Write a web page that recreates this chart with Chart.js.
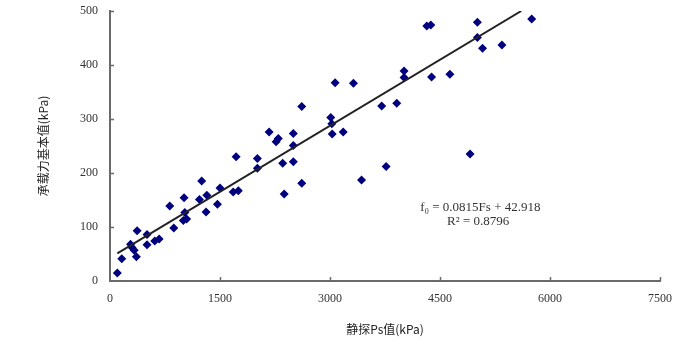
<!DOCTYPE html>
<html>
<head>
    <meta charset="UTF-8">
    <title>静探Ps值与承载力基本值</title>
    <script src="https://cdn.jsdelivr.net/npm/chart.js"></script>
    <style>
        html, body { margin: 0; padding: 0; background: #fff; }
        #wrap { width: 673px; height: 345px; }
    </style>
</head>
<body>
    <div id="wrap"><canvas id="myChart" width="673" height="345"></canvas></div>

    <script>
        // 静探Ps值 (kPa)
        var psValues = [100, 160, 280, 300, 330, 360, 370, 505, 505, 610, 670, 815, 870, 1010, 1020, 1000, 1045,
            1220, 1250, 1310, 1320, 1465, 1500, 1680, 1750, 1720, 2010, 2010, 2170, 2265, 2295, 2355, 2375,
            2500, 2500, 2500, 2615, 2615, 3010, 3025, 3030, 3070, 3180, 3320, 3430, 3705, 3765, 3910, 4010,
            4010, 4320, 4375, 4385, 4635, 4910, 5010, 5010, 5080, 5345, 5750];
        // 承载力基本值 (kPa)
        var f0Values = [15, 41, 68, 62, 57, 45, 93, 86, 67, 74, 78, 139, 98, 154, 127, 112, 115,
            151, 185, 128, 159, 142, 172, 165, 167, 230, 227, 209, 276, 258, 264, 218, 161,
            273, 221, 251, 323, 181, 303, 291, 272, 367, 276, 366, 187, 324, 212, 329, 389,
            377, 472, 474, 378, 383, 235, 479, 451, 431, 437, 485];

        var xTicks = [0, 1500, 3000, 4500, 6000, 7500];
        var yTicks = [0, 100, 200, 300, 400, 500];

        // 趋势线 fo = 0.0815Fs + 42.918
        var trendSlope = 0.0815;
        var trendIntercept = 42.918;
        var equationText = ['f\u2080 = 0.0815Fs + 42.918', 'R\u00B2 = 0.8796'];

        var points = [];
        for (var i = 0; i < psValues.length; i++) {
            points.push({ x: psValues[i], y: f0Values[i] });
        }

        // 趋势线从最小Ps到 y 轴上限
        var xStart = Math.min.apply(null, psValues);
        var xEnd = Math.min(Math.max.apply(null, psValues), (yTicks[yTicks.length - 1] - trendIntercept) / trendSlope);
        var trendPoints = [
            { x: xStart, y: trendSlope * xStart + trendIntercept },
            { x: xEnd, y: trendSlope * xEnd + trendIntercept }
        ];

        // 向内的刻度线 + 公式文字
        var extras = {
            id: 'extras',
            afterDatasetsDraw: function (chart) {
                var ctx = chart.ctx;
                var xs = chart.scales.x, ys = chart.scales.y;
                var area = chart.chartArea;
                ctx.save();
                ctx.strokeStyle = '#6a6a6a';
                ctx.lineWidth = 1.5;
                ctx.beginPath();
                xTicks.forEach(function (v) {
                    if (v === 0) return;
                    var px = Math.round(xs.getPixelForValue(v)) + 0.5;
                    ctx.moveTo(px, area.bottom);
                    ctx.lineTo(px, area.bottom - 4);
                });
                yTicks.forEach(function (v) {
                    if (v === 0) return;
                    var py = Math.round(ys.getPixelForValue(v)) + 0.5;
                    ctx.moveTo(area.left, py);
                    ctx.lineTo(area.left + 4, py);
                });
                ctx.stroke();

                ctx.fillStyle = '#333';
                ctx.font = '13px "Liberation Serif", "DejaVu Serif", serif';
                ctx.textAlign = 'center';
                ctx.textBaseline = 'middle';
                ctx.fillText(equationText[0], xs.getPixelForValue(5050), ys.getPixelForValue(136));
                ctx.fillText(equationText[1], xs.getPixelForValue(5020), ys.getPixelForValue(110));
                ctx.restore();
            }
        };

        var tickFont = { family: '"Liberation Serif", "DejaVu Serif", serif', size: 12 };

        var ctx = document.getElementById('myChart').getContext('2d');
        var myChart = new Chart(ctx, {
            type: 'scatter',
            data: {
                datasets: [{
                    label: '实测点',
                    data: points,
                    pointStyle: 'rectRot',
                    pointRadius: 4.5,
                    pointHoverRadius: 4.5,
                    backgroundColor: '#00007f',
                    borderColor: '#00007f',
                    borderWidth: 0,
                    order: 2
                }, {
                    label: '线性趋势',
                    type: 'line',
                    data: trendPoints,
                    borderColor: '#222',
                    borderWidth: 2,
                    pointRadius: 0,
                    fill: false,
                    order: 1
                }]
            },
            options: {
                responsive: false,
                animation: false,
                layout: { padding: { top: 11, right: 13, left: 0, bottom: 0 } },
                plugins: {
                    legend: { display: false },
                    tooltip: { enabled: false }
                },
                scales: {
                    x: {
                        type: 'linear',
                        min: 0,
                        max: 7500,
                        afterBuildTicks: function (scale) {
                            scale.ticks = xTicks.map(function (v) { return { value: v }; });
                        },
                        afterFit: function (scale) {
                            scale.height = 64;
                            scale.paddingLeft = 0;
                            scale.paddingRight = 0;
                        },
                        grid: { display: false },
                        border: { display: true, color: '#6a6a6a', width: 2 },
                        ticks: {
                            color: '#333',
                            padding: 3,
                            maxRotation: 0,
                            font: tickFont,
                            callback: function (v) { return String(v); }
                        },
                        title: {
                            display: true,
                            text: '静探Ps值(kPa)',
                            color: '#222',
                            padding: { top: 0, bottom: 8 },
                            font: { family: '"Noto Sans CJK SC", sans-serif', size: 12 }
                        }
                    },
                    y: {
                        min: 0,
                        max: 500,
                        afterBuildTicks: function (scale) {
                            scale.ticks = yTicks.map(function (v) { return { value: v }; });
                        },
                        afterFit: function (scale) {
                            scale.width = 110;
                            scale.paddingTop = 0;
                            scale.paddingBottom = 0;
                        },
                        grid: { display: false },
                        border: { display: true, color: '#6a6a6a', width: 2 },
                        ticks: {
                            color: '#333',
                            padding: 4,
                            font: tickFont,
                            callback: function (v) { return String(v); }
                        },
                        title: {
                            display: true,
                            text: '承载力基本值(kPa)',
                            color: '#222',
                            padding: { top: 36, bottom: 0 },
                            font: { family: '"Noto Sans CJK SC", sans-serif', size: 12 }
                        }
                    }
                }
            },
            plugins: [extras]
        });
    </script>
</body>
</html>
